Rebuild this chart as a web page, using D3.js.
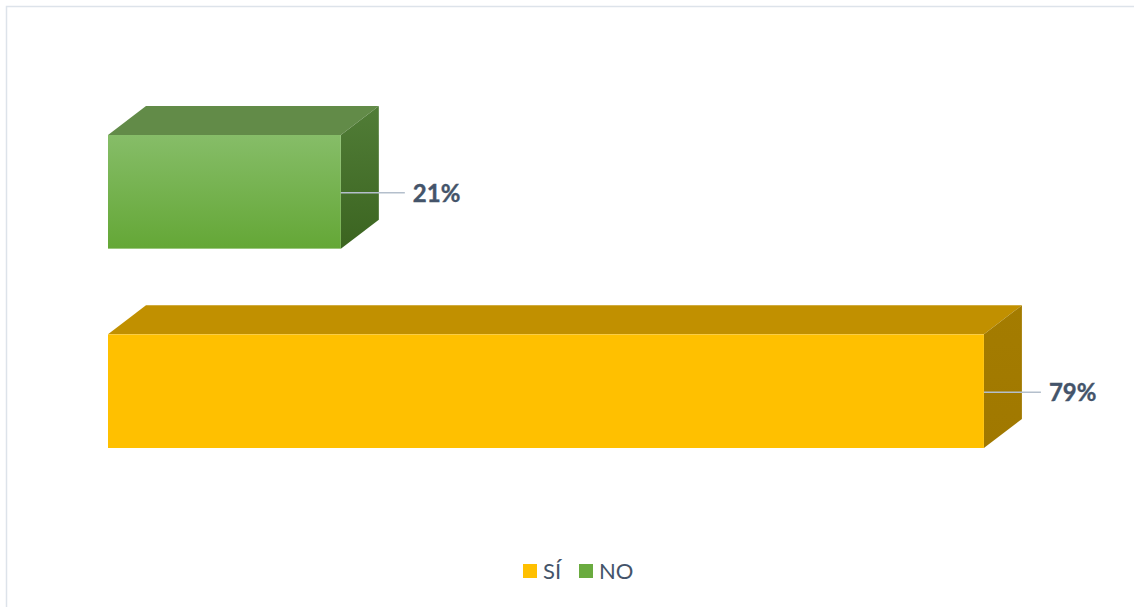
<!DOCTYPE html>
<html>
<head>
<meta charset="utf-8">
<script src="https://cdn.jsdelivr.net/npm/d3@7"></script>
<style>
  html, body { margin: 0; padding: 0; background: #ffffff; }
  svg { display: block; }
</style>
</head>
<body>
<svg id="chart" width="1134" height="607"></svg>
<script>
// Survey answers and their shares
const categories = ["SÍ", "NO"];
const values = [0.79, 0.21];
const labels = ["79%", "21%"];

const W = 1134, H = 607;
const depthX = 38, depthY = 29;

const colors = {
  "SÍ": { front: ["#ffc000", "#ffc000"], top: "#c19000", side: ["#a47c00", "#a07800"], legend: "#ffc000" },
  "NO": { front: ["#86bd68", "#64a736"], top: "#628b48", side: ["#517d37", "#3b6420"], legend: "#6aab3f" }
};
// leader line length per bar, in pixels
const leaderLen = { "SÍ": 57, "NO": 64 };

const svg = d3.select("#chart");

// chart frame
svg.append("rect")
  .attr("x", 6.5).attr("y", 6.5)
  .attr("width", W + 10).attr("height", H + 10)
  .attr("fill", "#ffffff")
  .attr("stroke", "#dde3ea")
  .attr("stroke-width", 1.5);

const x = d3.scaleLinear().domain([0, 0.8]).range([108, 995]);
// first category sits at the bottom
const y = d3.scaleBand().domain(categories.slice().reverse()).range([135, 448])
  .paddingInner(0.43).paddingOuter(0);

const defs = svg.append("defs");
categories.forEach((c, i) => {
  const gf = defs.append("linearGradient").attr("id", "front" + i)
    .attr("x1", 0).attr("y1", 0).attr("x2", 0).attr("y2", 1);
  gf.append("stop").attr("offset", 0).attr("stop-color", colors[c].front[0]);
  gf.append("stop").attr("offset", 1).attr("stop-color", colors[c].front[1]);
  const gs = defs.append("linearGradient").attr("id", "side" + i)
    .attr("x1", 0).attr("y1", 0).attr("x2", 0).attr("y2", 1);
  gs.append("stop").attr("offset", 0).attr("stop-color", colors[c].side[0]);
  gs.append("stop").attr("offset", 1).attr("stop-color", colors[c].side[1]);
});

const data = categories.map((c, i) => ({ cat: c, value: values[i], label: labels[i], i }));

const bars = svg.append("g").selectAll("g").data(data).join("g");

// top face
bars.append("path")
  .attr("d", d => {
    const x0 = x(0), x1 = x(d.value), y0 = y(d.cat);
    return `M${x0},${y0} L${x0 + depthX},${y0 - depthY} L${x1 + depthX},${y0 - depthY} L${x1},${y0} Z`;
  })
  .attr("fill", d => colors[d.cat].top);

// side face
bars.append("path")
  .attr("d", d => {
    const x1 = x(d.value), y0 = y(d.cat), y1 = y0 + y.bandwidth();
    return `M${x1},${y0} L${x1 + depthX},${y0 - depthY} L${x1 + depthX},${y1 - depthY} L${x1},${y1} Z`;
  })
  .attr("fill", d => `url(#side${d.i})`);

// front face
bars.append("rect")
  .attr("x", x(0))
  .attr("y", d => y(d.cat))
  .attr("width", d => x(d.value) - x(0))
  .attr("height", y.bandwidth())
  .attr("fill", d => `url(#front${d.i})`);

// leader lines and value labels
bars.append("line")
  .attr("x1", d => x(d.value))
  .attr("x2", d => x(d.value) + leaderLen[d.cat])
  .attr("y1", d => y(d.cat) + y.bandwidth() / 2 + 1)
  .attr("y2", d => y(d.cat) + y.bandwidth() / 2 + 1)
  .attr("stroke", "#b4bfcc")
  .attr("stroke-width", 1.6);

bars.append("text")
  .attr("x", d => x(d.value) + leaderLen[d.cat] + 8)
  .attr("y", d => y(d.cat) + y.bandwidth() / 2 + 10)
  .attr("font-family", "Lato, 'Open Sans', sans-serif")
  .attr("font-weight", "bold")
  .attr("font-size", 24)
  .attr("fill", "#44546a")
  .attr("stroke", "#44546a")
  .attr("stroke-width", 0.4)
  .text(d => d.label);

// legend
const legendItems = [
  { cat: "SÍ", x: 523 },
  { cat: "NO", x: 579 }
];
const legend = svg.append("g").selectAll("g").data(legendItems).join("g");
legend.append("rect")
  .attr("x", d => d.x).attr("y", 564)
  .attr("width", 14).attr("height", 14)
  .attr("fill", d => colors[d.cat].legend);
legend.append("text")
  .attr("x", d => d.x + 20)
  .attr("y", 579)
  .attr("font-family", "Lato, 'Open Sans', sans-serif")
  .attr("font-size", 22)
  .attr("fill", "#44546a")
  .text(d => d.cat);
</script>
</body>
</html>
